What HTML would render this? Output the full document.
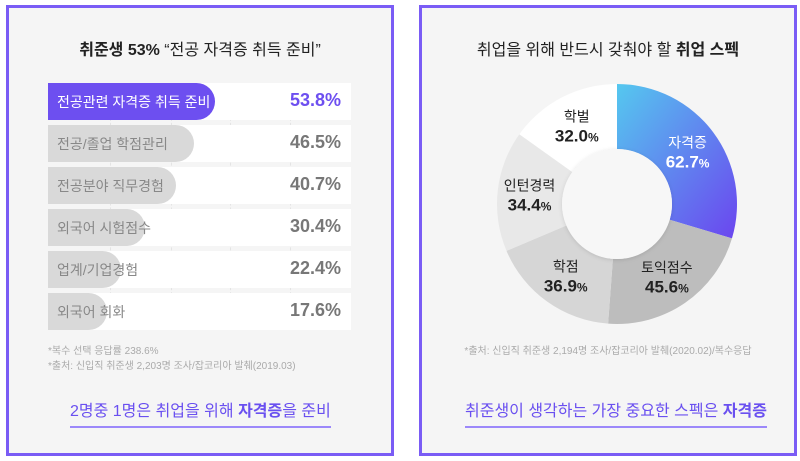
<!DOCTYPE html>
<html><head><meta charset="utf-8">
<style>
body{margin:0;width:800px;height:461px;background:#fff;position:relative;overflow:hidden;font-family:"Liberation Sans","Noto Sans CJK KR",sans-serif}
.panel{position:absolute;background:#f5f5f5;border:3px solid #7a5cf5;box-sizing:border-box}
.t{position:absolute;white-space:nowrap}
.row{position:absolute;left:48px;width:303px;height:37px;background:#fff}
.bar{position:absolute;left:0;top:0;height:37px;border-radius:0 19px 19px 0;background:#d9d9d9}
.lab{position:absolute;left:9px;top:9px;font-size:14px;color:#888}
.val{position:absolute;right:10px;top:7px;font-size:18px;font-weight:bold;color:#777}
.grid{position:absolute;top:83px;height:247px;border-left:1px dashed #e4e4e4}
</style></head><body>
<div class="panel" style="left:6px;top:5px;width:388px;height:451px"></div>
<div class="panel" style="left:419px;top:5px;width:378px;height:451px"></div>

<div class="t" style="left:0;width:400px;text-align:center;top:36px;font-size:16px;color:#222"><b>취준생 53%</b> “전공 자격증 취득 준비”</div>
<div id="bars"></div>
<div class="t" style="left:48px;top:342px;font-size:10px;color:#aaa">*복수 선택 응답률 238.6%</div>
<div class="t" style="left:48px;top:357px;font-size:10px;color:#aaa">*출처: 신입직 취준생 2,203명 조사/잡코리아 발췌(2019.03)</div>
<div class="t" style="left:70px;top:397px;font-size:16px;color:#6a50f0;border-bottom:2px solid #9c88fa;padding-bottom:5px">2명중 1명은 취업을 위해 <b>자격증</b>을 준비</div>

<div class="t" style="left:419px;width:378px;text-align:center;top:36px;font-size:16px;color:#222">취업을 위해 반드시 갖춰야 할 <b>취업 스펙</b></div>
<svg id="donut" width="800" height="461" style="position:absolute;left:0;top:0">
<defs><linearGradient id="g" x1="0" y1="0" x2="1" y2="1"><stop offset="0" stop-color="#55c8ef"/><stop offset="1" stop-color="#6b45ef"/></linearGradient>
<filter id="sh"><feDropShadow dx="0" dy="1" stdDeviation="2" flood-color="#000" flood-opacity="0.12"/></filter></defs>
</svg>
<div class="t" style="left:419px;width:378px;text-align:center;top:342px;font-size:10px;color:#aaa">*출처: 신입직 취준생 2,194명 조사/잡코리아 발췌(2020.02)/복수응답</div>
<div class="t" style="left:465px;top:397px;font-size:16px;color:#6a50f0;border-bottom:2px solid #9c88fa;padding-bottom:5px">취준생이 생각하는 가장 중요한 스펙은 <b>자격증</b></div>

<script>
const barLabels=["전공관련 자격증 취득 준비","전공/졸업 학점관리","전공분야 직무경험","외국어 시험점수","업계/기업경험","외국어 회화"];
const barValues=[53.8,46.5,40.7,30.4,22.4,17.6];
const pieLabels=["자격증","토익점수","학점","인턴경력","학벌"];
const pieValues=[62.7,45.6,36.9,34.4,32.0];

const bars=document.getElementById('bars');
const xs=v=>v*3.0+6;
[110,171,230,290].forEach(x=>{const g=document.createElement('div');g.className='grid';g.style.left=x+'px';


bars.appendChild(g);});
barValues.forEach((v,i)=>{
 const r=document.createElement('div');r.className='row';r.style.top=(83+i*42)+'px';
 
 
 const b=document.createElement('div');b.className='bar';b.style.width=xs(v)+'px';
 
 
 if(i===0)b.style.background='#6d4ff0';
 const l=document.createElement('div');l.className='lab';l.textContent=barLabels[i];
 
 
 if(i===0)l.style.color='#fff';
 const t=document.createElement('div');t.className='val';t.textContent=v.toFixed(1)+'%';
 
 
 if(i===0)t.style.color='#6d4ff0';
 r.appendChild(b);r.appendChild(l);r.appendChild(t);bars.appendChild(r);
});

const svg=document.getElementById('donut');const NS='http://www.w3.org/2000/svg';
const cx=617,cy=204,R=120,r0=55;
const fills=['url(#g)','#bdbdbd','#d6d6d6','#e8e8e8','#ffffff'];
const tcol=['#fff','#222','#222','#222','#222'];
const total=pieValues.reduce((a,b)=>a+b,0);
let a0=0;
const pt=(a,rr)=>[cx+rr*Math.sin(a),cy-rr*Math.cos(a)];
pieValues.forEach((v,i)=>{
 const a1=a0+v/total*2*Math.PI;
 const [x0,y0]=pt(a0,R),[x1,y1]=pt(a1,R),[x2,y2]=pt(a1,r0),[x3,y3]=pt(a0,r0);
 const lg=(a1-a0)>Math.PI?1:0;
 const p=document.createElementNS(NS,'path');
 p.setAttribute('d',`M${x0},${y0}A${R},${R} 0 ${lg} 1 ${x1},${y1}L${x2},${y2}A${r0},${r0} 0 ${lg} 0 ${x3},${y3}Z`);
 p.setAttribute('fill',fills[i]);
 
 
 svg.appendChild(p);
 const am=(a0+a1)/2;const [lx,ly]=pt(am,88);
 const t1=document.createElementNS(NS,'text');t1.setAttribute('x',lx);t1.setAttribute('y',ly-4);
 t1.setAttribute('text-anchor','middle');t1.setAttribute('font-size','14');t1.setAttribute('fill',tcol[i]);
 t1.textContent=pieLabels[i];
 
 
 const t2=document.createElementNS(NS,'text');t2.setAttribute('x',lx);t2.setAttribute('y',ly+16);
 t2.setAttribute('text-anchor','middle');t2.setAttribute('font-size','17');t2.setAttribute('font-weight','bold');t2.setAttribute('fill',tcol[i]);
 t2.innerHTML=v.toFixed(1)+'<tspan font-size="12">%</tspan>';
 
 
 svg.appendChild(t1);svg.appendChild(t2);
 a0=a1;
});
const c=document.createElementNS(NS,'circle');c.setAttribute('cx',cx);c.setAttribute('cy',cy);c.setAttribute('r',r0);
c.setAttribute('fill','#f7f7f7');c.setAttribute('filter','url(#sh)');


svg.appendChild(c);
</script>
</body></html>
